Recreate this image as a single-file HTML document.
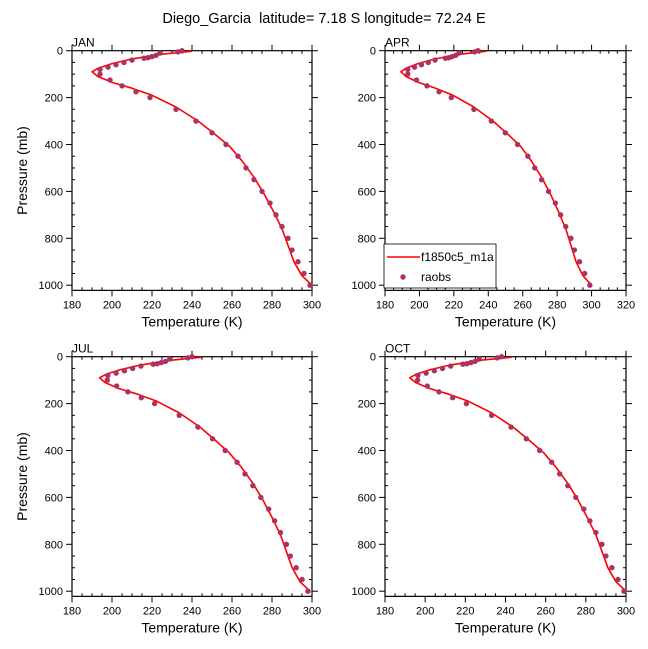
<!DOCTYPE html>
<html><head><meta charset="utf-8"><style>
html,body{margin:0;padding:0;background:#fff;}
svg{display:block;font-family:"Liberation Sans",sans-serif;}
</style></head><body>
<svg id="s" width="648" height="649" viewBox="0 0 648 649" xmlns="http://www.w3.org/2000/svg">
<text x="324" y="23" font-size="14.5" text-anchor="middle" xml:space="preserve">Diego_Garcia  latitude= 7.18 S longitude= 72.24 E</text>
</svg>
<script>
const s=document.getElementById('s');const NS='http://www.w3.org/2000/svg';
function el(t,a,txt){const e=document.createElementNS(NS,t);for(const k in a)e.setAttribute(k,a[k]);if(txt!==undefined)e.textContent=txt;s.appendChild(e);return e;}
const obsBase=[[0,235],[5,233],[10,224],[20,222],[25,220],[30,218],[32,216],[40,210],[50,206],[60,202],[70,198],[80,194],[100,194],[125,199],[150,205],[175,212],[200,219],[250,232],[300,242],[350,250],[400,257],[450,263],[500,267],[550,271],[600,275],[650,279],[700,282],[750,285],[800,288],[850,290],[900,293],[950,296],[1000,299]];
const modBase=[[2,240],[15,225],[35,210],[55,200],[75,193],[90,190],[110,193],[135,200],[160,210],[190,220],[240,232],[300,243],[360,252],[410,259],[470,265],[540,271],[610,276],[690,281],[760,285],[830,288],[900,291],[960,295],[1000,300]];
const panels=[
 {x0:72,x1:312,y0:50.7,tmax:300,lab:'JAN',leg:false},
 {x0:385,x1:626,y0:50.7,tmax:320,lab:'APR',leg:true},
 {x0:72,x1:312,y0:356.7,tmax:300,lab:'JUL',leg:false},
 {x0:385,x1:626,y0:356.7,tmax:300,lab:'OCT',leg:false}];
panels.forEach((P,i)=>{
 const X=t=>P.x0+(t-180)/(P.tmax-180)*(P.x1-P.x0);
 const Y=p=>P.y0+p*0.2345;
 const yb=P.y0+1022*0.2345;
 el('rect',{x:P.x0,y:P.y0,width:P.x1-P.x0,height:yb-P.y0,fill:'none',stroke:'#000','stroke-width':1.2});
 el('text',{x:P.x0,y:P.y0-4,'font-size':12},P.lab);
 for(let p=0;p<=1000;p+=50){const maj=p%200==0;const L=maj?6:3;
  el('line',{x1:P.x0-(maj?L:0),x2:P.x0+(maj?0:L),y1:Y(p),y2:Y(p),stroke:'#000'});
  el('line',{x1:P.x1-(maj?0:L),x2:P.x1+(maj?L:0),y1:Y(p),y2:Y(p),stroke:'#000'});
  if(maj)el('text',{x:P.x0-9,y:Y(p)+4,'font-size':11,'text-anchor':'end'},p);}
 for(let t=180;t<=P.tmax;t+=5){const maj=t%20==0;const L=maj?6:3;
  el('line',{x1:X(t),x2:X(t),y1:yb-(maj?0:L),y2:yb+(maj?L:0),stroke:'#000'});
  el('line',{x1:X(t),x2:X(t),y1:P.y0-(maj?L:0),y2:P.y0+(maj?0:L),stroke:'#000'});
  if(maj)el('text',{x:X(t),y:yb+18,'font-size':11,'text-anchor':'middle'},t);}
 el('text',{x:(P.x0+P.x1)/2,y:yb+36,'font-size':14,'text-anchor':'middle'},'Temperature (K)');
 if(i%2==0){const cy=(P.y0+yb)/2;el('text',{x:27,y:cy,'font-size':14,'text-anchor':'middle',transform:`rotate(-90 27 ${cy})`},'Pressure (mb)');}
 const off=i==2?5:i==1?-1:i==3?3:0;
 const sh=(p,t)=>{const w=Math.max(0,1-p/400);return t+off*w+(i==2?-1*(p/1000):0);};
 let d='';modBase.forEach((q,k)=>{d+=(k?'L':'M')+X(sh(q[0],q[1])).toFixed(1)+','+Y(q[0]).toFixed(1);});
 el('path',{d:d,fill:'none',stroke:'#f00','stroke-width':1.6,'stroke-linejoin':'round'});
 obsBase.forEach(q=>{el('circle',{cx:X(sh(q[0],q[1])),cy:Y(q[0]),r:2.7,fill:'#b03060'});});
 if(P.leg){
  el('rect',{x:384,y:244,width:112,height:44,fill:'#fff',stroke:'#000','stroke-width':0.8});
  el('line',{x1:387,x2:420,y1:257,y2:257,stroke:'#f00','stroke-width':1.6});
  el('text',{x:421,y:261,'font-size':12},'f1850c5_m1a');
  el('circle',{cx:403,cy:277,r:2.7,fill:'#b03060'});
  el('text',{x:421,y:281,'font-size':12},'raobs');
 }
});
</script>
</body></html>
